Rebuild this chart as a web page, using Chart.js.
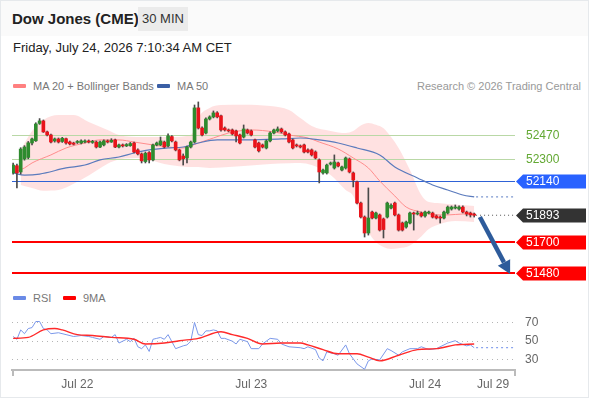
<!DOCTYPE html>
<html>
<head>
<meta charset="utf-8">
<script src="https://cdn.jsdelivr.net/npm/chart.js@4.4.1/dist/chart.umd.min.js"></script>
<style>
  body { margin: 0; background: #fff; font-family: "Liberation Sans", Arial, sans-serif; }
  .abs { position: absolute; white-space: nowrap; }
  #frame { left: 0; top: 0; width: 587px; height: 396px; border: 1px solid #e6e9ec; pointer-events: none; }
  #head { left: 1px; top: 1px; width: 587px; height: 35px; background: #fafafa; }
  #title { left: 12px; top: 10px; font-size: 15px; font-weight: bold; color: #222; line-height: 18px; }
  #tf { left: 138px; top: 7px; width: 50px; height: 24px; line-height: 24px; text-align: center; background: #ebebeb; font-size: 13px; color: #333; }
  #date { left: 13px; top: 40px; font-size: 13px; color: #222; line-height: 16px; }
  .leg { font-size: 11px; color: #777; line-height: 14px; }
  .sw { display: inline-block; width: 13px; height: 4px; border-radius: 1px; vertical-align: middle; margin-right: 7px; position: relative; top: -1px; }
  #chart { position: absolute; left: 0; top: 90px; }
</style>
</head>
<body>
<div id="head" class="abs"></div>
<div id="title" class="abs">Dow Jones (CME)</div>
<div id="tf" class="abs">30 MIN</div>
<div id="date" class="abs">Friday, July 24, 2026 7:10:34 AM CET</div>
<div class="abs leg" style="left:13px;top:79px"><span class="sw" style="background:#ff8080"></span>MA 20 + Bollinger Bands</div>
<div class="abs leg" style="left:157px;top:79px"><span class="sw" style="background:#3a5fa5"></span>MA 50</div>
<div class="abs leg" style="right:9px;top:79px;color:#999">Research © 2026 Trading Central</div>
<div class="abs leg" style="left:13px;top:291px"><span class="sw" style="background:#6a8ae6"></span>RSI</div>
<div class="abs leg" style="left:63px;top:291px"><span class="sw" style="background:#ff0000"></span>9MA</div>
<canvas id="chart" width="590" height="306"></canvas>
<div id="frame" class="abs"></div>
<script>
// 30 min candles, index 0 = first bar on the left
const candleOpen = [52198,52250,52205,52300,52310,52414,52430,52555,52573,52494,52472,52429,52443,52425,52445,52421,52414,52418,52414,52421,
  52429,52418,52421,52385,52400,52429,52421,52436,52385,52400,52393,52395,52414,52364,52335,52280,52345,52292,52400,52400,
  52421,52393,52460,52421,52364,52320,52306,52385,52421,52667,52522,52486,52587,52602,52631,52610,52522,52508,52508,52501,
  52472,52457,52508,52501,52436,52414,52400,52378,52429,52486,52501,52515,52494,52479,52436,52400,52393,52400,52364,52364,
  52349,52292,52198,52198,52262,52234,52270,52219,52234,52299,52198,52133,51981,51880,51765,51916,51873,51895,51866,51880,
  51945,51981,51895,51837,51808,51837,51909,51902,51909,51888,51909,51909,51888,51880,51873,51909,51938,51945,51938,51952,
  51916,51909,51902];
const candleHigh = [52270,52262,52380,52395,52425,52450,52560,52590,52580,52500,52478,52450,52450,52455,52450,52428,52420,52432,52436,52436,
  52436,52433,52428,52428,52436,52436,52445,52443,52407,52407,52410,52418,52421,52371,52342,52349,52352,52407,52421,52457,
  52428,52480,52468,52428,52370,52335,52392,52428,52688,52710,52530,52595,52610,52645,52640,52616,52530,52515,52515,52508,
  52479,52544,52515,52508,52443,52421,52407,52436,52494,52515,52530,52522,52501,52486,52443,52407,52400,52407,52371,52371,
  52357,52299,52226,52262,52277,52328,52277,52248,52313,52306,52205,52140,51988,51888,52090,51923,51916,51902,51873,51988,
  51975,51988,51902,51844,51851,51916,51916,51923,51916,51923,51923,51916,51895,51888,51923,51960,51960,51967,51960,51960,
  51923,51916,51909];
const candleLow = [52190,52090,52190,52290,52300,52400,52425,52548,52490,52465,52415,52420,52414,52418,52405,52400,52400,52410,52407,52414,
  52414,52411,52378,52380,52393,52414,52418,52380,52378,52385,52388,52390,52342,52328,52270,52270,52270,52285,52393,52395,
  52378,52385,52421,52357,52285,52255,52270,52378,52414,52515,52465,52479,52580,52595,52595,52500,52500,52494,52472,52421,
  52407,52450,52479,52465,52378,52349,52378,52371,52421,52479,52494,52486,52465,52414,52371,52385,52378,52342,52342,52320,
  52299,52126,52190,52190,52255,52226,52241,52212,52226,52198,52097,51974,51873,51736,51750,51866,51866,51779,51729,51873,
  51938,51888,51779,51779,51800,51830,51786,51895,51880,51880,51902,51873,51866,51837,51866,51902,51930,51938,51930,51909,
  51888,51880,51880];
const candleClose = [52255,52198,52370,52385,52415,52443,52551,52573,52494,52472,52421,52443,52421,52448,52414,52407,52405,52425,52429,52429,
  52421,52426,52385,52421,52429,52421,52433,52385,52400,52393,52403,52410,52349,52335,52285,52340,52292,52400,52414,52429,
  52385,52465,52429,52364,52292,52300,52385,52421,52667,52522,52472,52587,52602,52631,52602,52508,52508,52501,52479,52465,
  52414,52515,52486,52472,52385,52357,52385,52429,52486,52508,52515,52494,52472,52421,52378,52393,52385,52349,52349,52328,
  52306,52205,52219,52255,52270,52277,52248,52241,52306,52205,52147,51981,51880,51765,51873,51873,51909,51786,51790,51981,
  51965,51895,51786,51786,51844,51909,51902,51909,51888,51916,51916,51880,51873,51873,51916,51952,51952,51952,51952,51916,
  51902,51895,51893];

// Bollinger band (20) read at these bar indices
const bandIdx   = [2,5,8,12,16,20,25,28,34,40,46,48,49,52,55,61,68,73,76,79,84,88,90,92,94,96,98,100,102,105,108,110,113,117,122];
const bandUpper = [52364,52500,52580,52616,52616,52566,52508,52472,52457,52457,52465,52508,52594,52667,52688,52690,52680,52652,52594,52537,
  52501,52486,52500,52540,52558,52545,52520,52457,52378,52219,52039,51988,51980,51970,51960];
const bandLower = [52111,52090,52070,52075,52120,52180,52265,52295,52305,52262,52241,52240,52240,52234,52238,52248,52262,52268,52270,52255,
  52183,52075,52032,51895,51772,51700,51664,51650,51655,51675,51740,51794,51830,51851,51844];

const ma20Idx  = [0,3,5,10,14,19,23,28,32,37,41,45,49,53,57,63,69,73,78,81,86,90,94,97,101,104,108,111,115,119,122];
const ma20Vals = [52198,52234,52270,52328,52378,52414,52436,52436,52421,52400,52385,52378,52414,52450,52486,52508,52494,52472,52450,52421,
  52371,52306,52234,52140,52032,51952,51916,51898,51895,51902,51902];

const ma50Idx  = [0,3,7,14,19,23,28,32,36,41,45,49,54,62,71,76,81,86,91,97,101,107,111,115,119,122];
const ma50Vals = [52198,52183,52190,52234,52255,52292,52313,52342,52364,52378,52385,52414,52436,52436,52443,52450,52436,52414,52378,52328,
  52241,52162,52111,52075,52039,52025];

const rsiIdx  = [0,1,2,3,4,5,6,7,8,9,10,12,14,16,18,20,21,23,24,26,27,28,30,31,32,33,34,35,36,37,38,39,40,41,42,43,45,46,47,48,
  49,50,51,52,53,54,55,56,58,59,60,62,63,65,66,68,70,71,73,76,77,78,80,81,82,83,85,86,88,89,91,93,94,95,97,99,100,102,103,105,
  107,108,110,112,115,117,118,120,121,122];
const rsiVals = [55,52,62,58,63.5,64.5,71,71,63.5,62,58,59,57,55,56,55,54,52,55,54,57,48,52,49.5,53,44,42,46,39,52,53,54,52,57,49.5,42,45,46,50,70,
  57,56,61,61,62,61,53,53,50,47,52,49.5,42,42,47,53,52,47,44,43,42,44,41,32,29,38.6,36.5,35,46,36.5,25.7,20,29,31,30,42,40,35,38.6,42,
  42,44,41,42,48,50.5,48,45,46,43];

const rsiMaIdx  = [0,4,8,11,13,17,21,26,32,35,40,44,49,55,58,62,66,71,76,78,82,86,91,94,97,102,107,112,117,122];
const rsiMaVals = [53,54,62,63.5,62,57,56,54,52,47,48,50.5,53,60,57,53,47,48,48,46,41,36.5,36.5,33,29,35,41,42,46,47];

// price levels shown on the right
const levelValues = [52470, 52300, 52140, 51893, 51700, 51480];
const rsiTicks = [30, 50, 70];
const tickIdx  = [17, 63, 109, 127];
const tickText = ['Jul 22', 'Jul 23', 'Jul 24', 'Jul 29'];
const arrowFrom = [123.5, 51880];
const arrowTo   = [131.5, 51470];

const X_MIN = -0.3, X_MAX = 132.8;
const last = candleClose.length - 1;

const levelStyle = [
  { line: '#b9d8a6', width: 1, text: '#62a832' },
  { line: '#b9d8a6', width: 1, text: '#62a832' },
  { line: '#2f62d6', width: 1, box: '#2962ff' },
  { line: null, box: '#333333' },
  { line: '#ff0000', width: 2, box: '#ff0000' },
  { line: '#ff0000', width: 2, box: '#ff0000' },
];

const pts = (idx, vals) => idx.map((x, i) => ({ x: x, y: vals[i] }));
const UP = '#2e8b2e', DOWN = '#e8141b';
const candleColors = candleClose.map((c, i) => c >= candleOpen[i] ? UP : DOWN);

const overlay = {
  id: 'overlay',
  afterDatasetDraw(chart, args) {
    if (args.index !== 1) return;
    const { ctx, chartArea: a } = chart;
    const y = chart.scales.y;
    levelValues.forEach((v, i) => {
      const st = levelStyle[i];
      if (!st.line) return;
      const py = Math.round(y.getPixelForValue(v)) + (st.width % 2 ? 0.5 : 0);
      ctx.save();
      ctx.strokeStyle = st.line;
      ctx.lineWidth = st.width;
      ctx.beginPath();
      ctx.moveTo(a.left, py);
      ctx.lineTo(a.right, py);
      ctx.stroke();
      ctx.restore();
    });
  },
  afterDraw(chart) {
    const { ctx, chartArea: a } = chart;
    const x = chart.scales.x, y = chart.scales.y;
    ctx.save();
    // arrow
    const x0 = x.getPixelForValue(arrowFrom[0]), y0 = y.getPixelForValue(arrowFrom[1]);
    const x1 = x.getPixelForValue(arrowTo[0]), y1 = y.getPixelForValue(arrowTo[1]);
    const ang = Math.atan2(y1 - y0, x1 - x0), hl = 13, hw = 7;
    const bx = x1 - hl * Math.cos(ang), by = y1 - hl * Math.sin(ang);
    ctx.strokeStyle = '#2d5b9b';
    ctx.fillStyle = '#2d5b9b';
    ctx.lineWidth = 4.5;
    ctx.beginPath();
    ctx.moveTo(x0, y0);
    ctx.lineTo(bx, by);
    ctx.stroke();
    ctx.beginPath();
    ctx.moveTo(x1, y1);
    ctx.lineTo(bx + hw * Math.sin(ang), by - hw * Math.cos(ang));
    ctx.lineTo(bx - hw * Math.sin(ang), by + hw * Math.cos(ang));
    ctx.closePath();
    ctx.fill();
    // right labels
    ctx.font = '12px "Liberation Sans", Arial, sans-serif';
    ctx.textBaseline = 'middle';
    levelValues.forEach((v, i) => {
      const st = levelStyle[i];
      const py = Math.round(y.getPixelForValue(v)) + 0.5;
      if (st.box) {
        ctx.fillStyle = st.box;
        ctx.beginPath();
        ctx.moveTo(a.right + 1, py);
        ctx.lineTo(a.right + 8, py - 7);
        ctx.lineTo(586, py - 7);
        ctx.lineTo(586, py + 7);
        ctx.lineTo(a.right + 8, py + 7);
        ctx.closePath();
        ctx.fill();
        ctx.fillStyle = '#fff';
      } else {
        ctx.fillStyle = st.text;
      }
      ctx.fillText(String(v), a.right + 11, py + 0.5);
    });
    // end caps on the time axis
    ctx.strokeStyle = '#bbbbbb';
    ctx.lineWidth = 2;
    [a.left + 1, a.right].forEach(px => {
      ctx.beginPath();
      ctx.moveTo(px, x.top);
      ctx.lineTo(px, x.top + 6);
      ctx.stroke();
    });
    ctx.restore();
  }
};

new Chart(document.getElementById('chart'), {
  type: 'bar',
  plugins: [overlay],
  data: {
    datasets: [
      { type: 'line', data: pts(bandIdx, bandUpper), borderWidth: 0, pointRadius: 0, fill: '+1',
        backgroundColor: 'rgba(255,196,196,0.5)', cubicInterpolationMode: 'monotone', order: 20 },
      { type: 'line', data: pts(bandIdx, bandLower), borderWidth: 0, pointRadius: 0, fill: false,
        cubicInterpolationMode: 'monotone', order: 19 },
      { type: 'line', data: pts(ma20Idx, ma20Vals), borderColor: '#ff8c8c', borderWidth: 1, pointRadius: 0,
        cubicInterpolationMode: 'monotone', order: 8 },
      { type: 'line', data: pts(ma50Idx, ma50Vals), borderColor: '#5b7bbd', borderWidth: 1.2, pointRadius: 0,
        cubicInterpolationMode: 'monotone', order: 7 },
      { type: 'line', data: [{ x: ma50Idx[ma50Idx.length - 1] + 0.5, y: ma50Vals[ma50Vals.length - 1] }, { x: X_MAX, y: ma50Vals[ma50Vals.length - 1] }],
        borderColor: '#7b96cf', borderWidth: 1.2, borderDash: [2, 3], pointRadius: 0, order: 7 },
      { type: 'line', data: [{ x: last + 0.5, y: candleClose[last] }, { x: X_MAX, y: candleClose[last] }],
        borderColor: '#555', borderWidth: 1, borderDash: [1, 3], pointRadius: 0, order: 7 },
      { data: candleClose.map((c, i) => ({ x: i, y: [candleLow[i], candleHigh[i]] })),
        backgroundColor: '#4a4a4a', barThickness: 1, grouped: false, order: 4 },
      { data: candleClose.map((c, i) => ({ x: i, y: [candleOpen[i], c] })),
        backgroundColor: candleColors, barThickness: 3, minBarLength: 1, grouped: false, order: 3 },
      { type: 'line', yAxisID: 'yRsi', data: pts(rsiIdx, rsiVals), borderColor: '#7b98ea', borderWidth: 1,
        pointRadius: 0, tension: 0, order: 2 },
      { type: 'line', yAxisID: 'yRsi', data: [{ x: last + 0.5, y: rsiVals[rsiVals.length - 1] }, { x: X_MAX, y: rsiVals[rsiVals.length - 1] }],
        borderColor: '#8aa4ee', borderWidth: 1.2, borderDash: [2, 3], pointRadius: 0, order: 2 },
      { type: 'line', yAxisID: 'yRsi', data: pts(rsiMaIdx, rsiMaVals), borderColor: '#ff2a2a', borderWidth: 1.4,
        pointRadius: 0, cubicInterpolationMode: 'monotone', order: 1 },
    ]
  },
  options: {
    responsive: false,
    animation: false,
    events: [],
    layout: { padding: { left: 12, top: 10, right: 0, bottom: 0 } },
    plugins: { legend: { display: false }, tooltip: { enabled: false } },
    scales: {
      x: {
        type: 'linear', min: X_MIN, max: X_MAX, offset: false,
        grid: { display: false, drawTicks: false, offset: false },
        border: { display: true, color: '#bbbbbb', width: 2 },
        afterBuildTicks: s => { s.ticks = tickIdx.map(v => ({ value: v })); },
        afterFit: s => { s.height = 26; },
        ticks: {
          autoSkip: false, maxRotation: 0, padding: 7, color: '#666',
          font: { size: 12, family: '"Liberation Sans", Arial, sans-serif' },
          callback: v => tickText[tickIdx.indexOf(v)] || ''
        }
      },
      y: {
        type: 'linear', position: 'right', stack: 'pane', stackWeight: 185,
        min: 51390, max: 52724,
        grid: { display: false }, border: { display: false },
        ticks: { display: false },
        afterFit: s => { s.width = 75; s.paddingTop = 0; s.paddingBottom = 0; }
      },
      yRsi: {
        type: 'linear', position: 'right', stack: 'pane', stackWeight: 85,
        min: 19.2, max: 110,
        grid: { color: '#b5b5b5', lineWidth: 1, drawTicks: false },
        border: { display: false, dash: [1, 4] },
        afterBuildTicks: s => { s.ticks = rsiTicks.map(v => ({ value: v })); },
        afterFit: s => { s.width = 75; s.paddingTop = 0; s.paddingBottom = 0; },
        ticks: { padding: 10, color: '#666', font: { size: 12, family: '"Liberation Sans", Arial, sans-serif' } }
      }
    }
  }
});
</script>
</body>
</html>
